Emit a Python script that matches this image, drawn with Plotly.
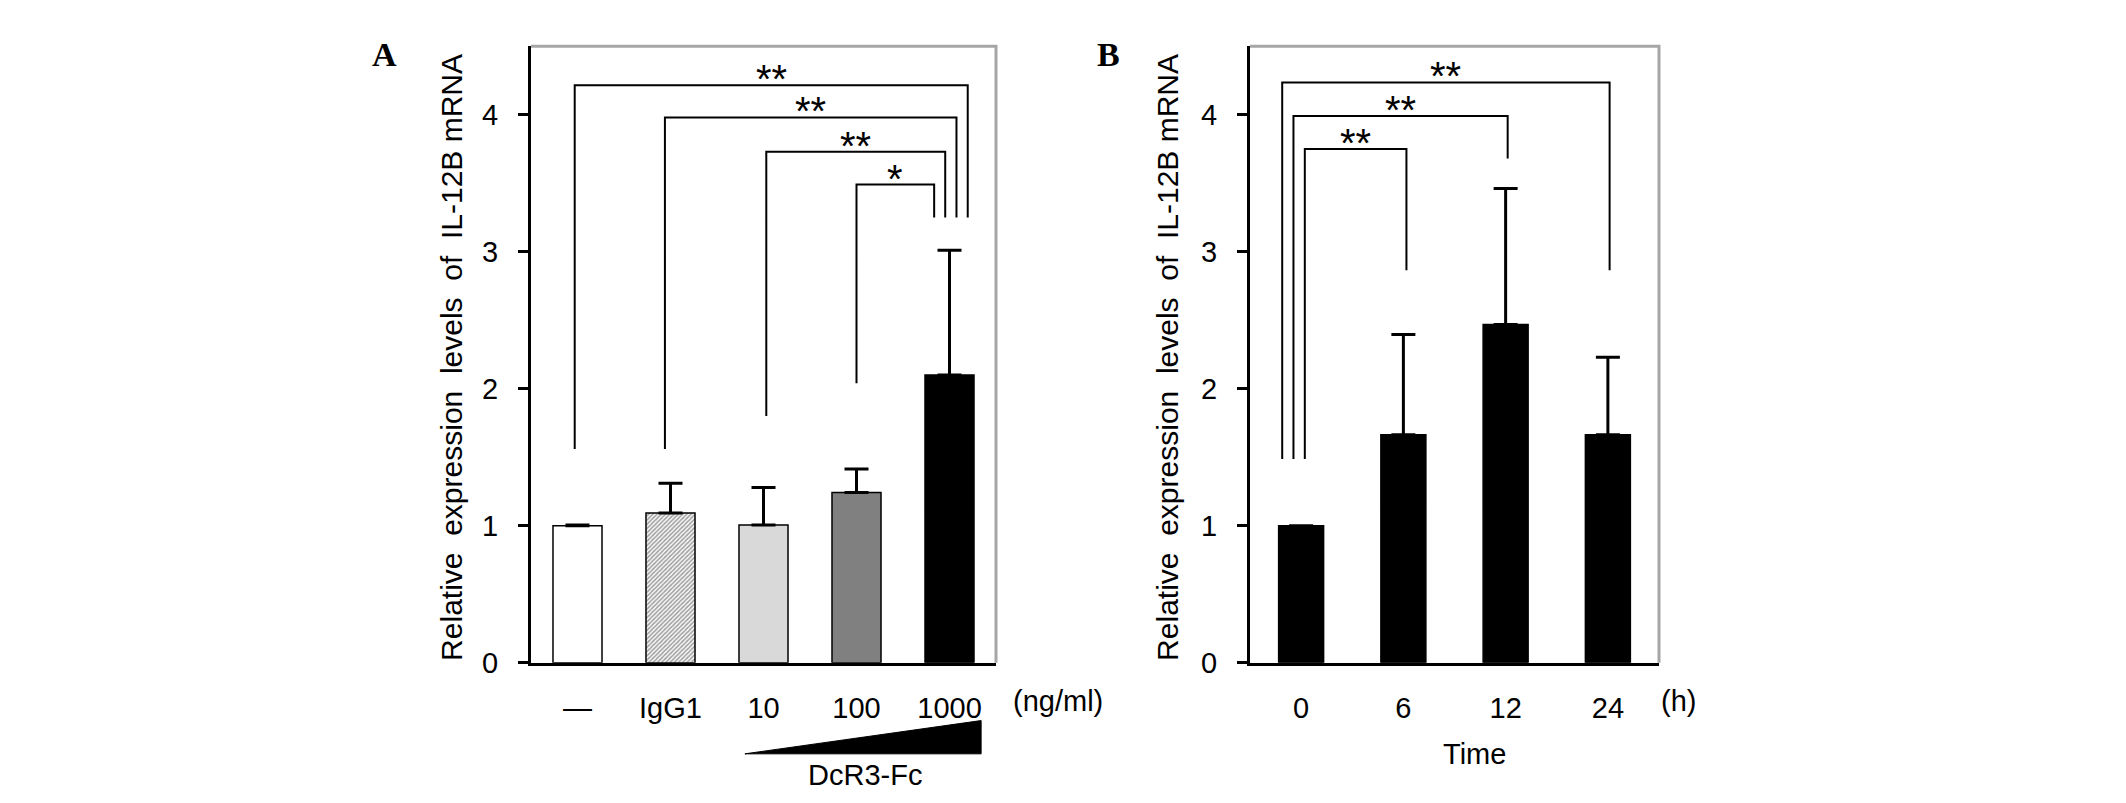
import plotly.graph_objects as go

# panel A : DcR3-Fc dose
a_labels = ["—", "IgG1", "10", "100", "1000"]
a_means = [1.0, 1.093, 1.005, 1.243, 2.10]
a_err = [0.005, 0.217, 0.274, 0.17, 0.91]
a_colors = ["white", "white", "#d9d9d9", "#808080", "black"]

# brackets A (category index -> category index)
a_br_from = [0, 1, 2, 3]
a_br_to = [4, 4, 4, 4]
a_br_y = [4.216, 3.98, 3.73, 3.49]
a_br_from_bottom = [1.56, 1.56, 1.80, 2.04]
a_br_to_bottom = [3.25, 3.25, 3.25, 3.25]
a_br_text = ["**", "**", "**", "*"]

# panel B : time course
b_labels = ["0", "6", "12", "24"]
b_means = [1.0, 1.664, 2.469, 1.664]
b_err = [0.0, 0.731, 0.993, 0.565]

b_br_from = [0, 0, 0]
b_br_to = [3, 2, 1]
b_br_y = [4.236, 3.99, 3.75]
b_br_from_bottom = [1.486, 1.486, 1.486]
b_br_to_bottom = [2.864, 3.68, 2.864]
b_br_text = ["**", "**", "**"]

y_ticks = [0, 1, 2, 3, 4]
y_title = "Relative\u00a0 expression\u00a0 levels\u00a0 of\u00a0 IL-12B mRNA"

W, H = 2126, 803
FONT = "Liberation Sans, Arial, sans-serif"
SERIF = "Liberation Serif, Times New Roman, serif"

# leg offsets inside a category so the bracket legs do not overlap
a_from_off = [-0.03, -0.06, 0.03, 0.0]
a_to_off = [0.196, 0.075, -0.046, -0.165]
b_from_off = [-0.185, -0.075, 0.036]
b_to_off = [0.017, 0.02, 0.03]

fig = go.Figure()

fig.add_trace(go.Bar(
    x=list(range(len(a_labels))), y=a_means, width=0.527,
    marker=dict(color=a_colors, line=dict(color="black", width=1.5),
                pattern=dict(shape=["", "/", "", "", ""], size=3, solidity=0.55,
                             fgcolor="#444444", bgcolor="white")),
    error_y=dict(type="data", array=a_err, arrayminus=[0] * len(a_err), symmetric=False,
                 thickness=3, width=12, color="black"),
    xaxis="x", yaxis="y", showlegend=False))

fig.add_trace(go.Bar(
    x=list(range(len(b_labels))), y=b_means, width=0.44,
    marker=dict(color="black", line=dict(color="black", width=1.5)),
    error_y=dict(type="data", array=b_err, arrayminus=[0] * len(b_err), symmetric=False,
                 thickness=3, width=12, color="black"),
    xaxis="x2", yaxis="y2", showlegend=False))


def add_brackets(frm, to, yb, fb, tb, txt, foff, toff, xa, ya):
    for i in range(len(frm)):
        x0 = frm[i] + foff[i]
        x1 = to[i] + toff[i]
        fig.add_trace(go.Scatter(
            x=[x0, x0, x1, x1], y=[fb[i], yb[i], yb[i], tb[i]], mode="lines",
            line=dict(color="black", width=2), xaxis=xa, yaxis=ya,
            showlegend=False, hoverinfo="skip"))
        fig.add_annotation(x=(x0 + x1) / 2, y=yb[i], xref=xa, yref=ya, text=txt[i],
                           showarrow=False, yanchor="bottom", yshift=-18,
                           font=dict(family=FONT, size=40, color="black"))


add_brackets(a_br_from, a_br_to, a_br_y, a_br_from_bottom, a_br_to_bottom, a_br_text,
             a_from_off, a_to_off, "x", "y")
add_brackets(b_br_from, b_br_to, b_br_y, b_br_from_bottom, b_br_to_bottom, b_br_text,
             b_from_off, b_to_off, "x2", "y2")

ydom = [135 / H, 764 / H]
axis_font = dict(family=FONT, size=29, color="black")
xcommon = dict(showline=True, linecolor="black", linewidth=3, showgrid=False, zeroline=False,
               ticks="", tickfont=axis_font, ticklabelstandoff=18)
ycommon = dict(showline=True, linecolor="black", linewidth=3, showgrid=False, zeroline=False,
               range=[0, 4.5], tickvals=y_ticks, ticks="outside", ticklen=10, tickwidth=3,
               tickcolor="black", tickfont=axis_font, ticklabelstandoff=14, domain=ydom)

fig.update_layout(
    width=W, height=H, margin=dict(l=0, r=0, t=0, b=0),
    paper_bgcolor="white", plot_bgcolor="white",
    xaxis=dict(domain=[523 / W, 988 / W], range=[-0.5, 4.5],
               tickvals=list(range(len(a_labels))), ticktext=a_labels, anchor="y", **xcommon),
    yaxis=dict(anchor="x", **ycommon),
    xaxis2=dict(domain=[1242 / W, 1651 / W], range=[-0.5, 3.5],
                tickvals=list(range(len(b_labels))), ticktext=b_labels, anchor="y2", **xcommon),
    yaxis2=dict(anchor="x2", **ycommon),
)

# grey frame on top and right of each panel
for xr, yr in [("x domain", "y domain"), ("x2 domain", "y2 domain")]:
    fig.add_shape(type="path", path="M 0 1 L 1 1 L 1 0", xref=xr, yref=yr,
                  line=dict(color="#a6a6a6", width=3))

# DcR3-Fc dose ramp under panel A
fig.add_shape(type="path", path="M 1.80 0.0523 L 4.34 0.0523 L 4.34 0.0946 Z",
              xref="x", yref="paper", fillcolor="black", line=dict(color="black", width=1))

texts = [
    (y_title, 444, 357, -90, 30, FONT, False),
    (y_title, 1160, 357, -90, 30, FONT, False),
    ("(ng/ml)", 1050, 707, 0, 29, FONT, False),
    ("(h)", 1670, 707, 0, 29, FONT, False),
    ("Time", 1466, 761, 0, 29, FONT, False),
    ("DcR3-Fc", 857, 783, 0, 29, FONT, False),
    ("A", 376, 47, 0, 34, SERIF, True),
    ("B", 1100, 47, 0, 34, SERIF, True),
]
for t, px, py, ang, sz, fam, bold in texts:
    fig.add_annotation(x=px / W, y=1 - py / H, xref="paper", yref="paper",
                       text="<b>%s</b>" % t if bold else t, showarrow=False,
                       xanchor="center", yanchor="middle", textangle=ang,
                       font=dict(family=fam, size=sz, color="black"))

fig.write_html("out.html")
